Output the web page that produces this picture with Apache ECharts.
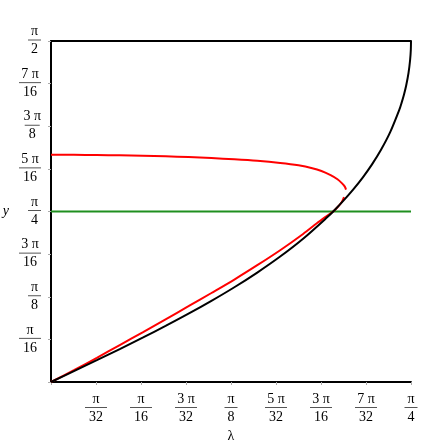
<!DOCTYPE html>
<html><head><meta charset="utf-8">
<script src="https://cdn.jsdelivr.net/npm/echarts@6/dist/echarts.min.js"></script>
<style>html,body{margin:0;padding:0;background:#fff}#c{width:435px;height:445px}</style>
</head><body><div id="c"></div>
<script>
const PI = Math.PI;
// tick labels (numerator/denominator)
const xTickLabels = ['', 'π/32', 'π/16', '3 π/32', 'π/8', '5 π/32', '3 π/16', '7 π/32', 'π/4'];
const yTickLabels = ['', 'π/16', 'π/8', '3 π/16', 'π/4', '5 π/16', '3 π/8', '7 π/16', 'π/2'];
// black curve (λ, y)
const blackCurve = [
  [0,0],[0.05,0.0501],[0.10,0.1005],[0.15,0.1517],[0.20,0.2041],[0.25,0.2582],
  [0.30,0.3145],[0.35,0.3737],[0.40,0.4365],[0.45,0.5042],[0.50,0.5779],
  [0.55,0.6600],[0.60,0.7538],[0.62,0.7948],[0.64,0.8402],[0.66,0.8886],
  [0.68,0.9417],[0.70,1.0013],[0.72,1.0698],[0.74,1.1508],[0.76,1.2543],
  [0.765,1.287],[0.77,1.3235],[0.775,1.3672],[0.78,1.4241],[0.7835,1.4844],
  [0.785,1.5308],[0.7854,1.5708]
];
// red curve, lower branch
const redLower = [
  [0,0],[0.05,0.0545],[0.10,0.1115],[0.15,0.170],[0.20,0.229],[0.25,0.289],
  [0.30,0.349],[0.35,0.410],[0.40,0.472],[0.45,0.538],[0.50,0.607],[0.55,0.682],
  [0.58,0.731],[0.60,0.762],[0.6155,0.7854],[0.625,0.805],[0.634,0.828],[0.6393,0.852]
];
// red curve, upper branch
const redUpper = [
  [0,1.047],[0.05,1.0465],[0.10,1.0455],[0.15,1.044],[0.20,1.042],[0.25,1.0395],
  [0.30,1.036],[0.35,1.0315],[0.40,1.026],[0.45,1.019],[0.50,1.009],[0.54,0.998],
  [0.57,0.985],[0.59,0.972],[0.61,0.953],[0.625,0.934],[0.635,0.915],[0.641,0.900],[0.6436,0.886]
];
// green horizontal line y = π/4
const greenLine = [[0, PI/4],[PI/4, PI/4]];

const FONT = '"Liberation Serif","Times New Roman",serif';
function frac(lbl){
  if(!lbl) return '';
  const [n,d] = lbl.split('/');
  let b = d.length > 1 ? 'bL' : (n.length > 1 ? 'bM' : 'bS');
  return '{n|' + n + '}\n{' + b + '| }\n{d|' + d + '}';
}
const rich = {
  n:{fontFamily:FONT,fontSize:14,color:'#000',lineHeight:14,align:'center'},
  d:{fontFamily:FONT,fontSize:14,color:'#000',lineHeight:16,align:'center'},
  bS:{width:13,height:1,lineHeight:3,fontSize:1,backgroundColor:'#555',align:'center'},
  bM:{width:15,height:1,lineHeight:3,fontSize:1,backgroundColor:'#555',align:'center'},
  bL:{width:22,height:1,lineHeight:3,fontSize:1,backgroundColor:'#555',align:'center'}
};
const chart = echarts.init(document.getElementById('c'));
chart.setOption({
  animation:false,
  grid:{left:51,right:24,top:41,bottom:63,containLabel:false,outerBoundsMode:'none'},
  xAxis:[{
    type:'value',min:0,max:PI/4,interval:PI/32,
    name:'λ',nameLocation:'middle',nameGap:47,
    nameTextStyle:{fontFamily:FONT,fontSize:14,color:'#000'},
    axisLine:{onZero:false,lineStyle:{color:'#000',width:2}},
    axisTick:{show:true,length:3,lineStyle:{color:'#aaa'}},
    splitLine:{show:false},
    axisLabel:{margin:10,formatter:function(v){return frac(xTickLabels[Math.round(v/(PI/32))]);},rich:rich}
  },{
    type:'value',position:'top',min:0,max:PI/4,
    axisLine:{show:true,onZero:false,lineStyle:{color:'#000',width:2}},
    axisTick:{show:false},axisLabel:{show:false},splitLine:{show:false}
  }],
  yAxis:{
    type:'value',min:0,max:PI/2,interval:PI/16,
    name:'y',nameLocation:'middle',nameGap:42,nameRotate:0,
    nameTextStyle:{fontFamily:FONT,fontSize:14,fontStyle:'italic',color:'#000'},
    axisLine:{show:true,onZero:false,lineStyle:{color:'#000',width:2}},
    axisTick:{show:true,length:3,lineStyle:{color:'#aaa'}},
    splitLine:{show:false},
    axisLabel:{margin:10,formatter:function(v){return frac(yTickLabels[Math.round(v/(PI/16))]);},rich:rich}
  },
  series:[
    {type:'line',data:greenLine,showSymbol:false,lineStyle:{color:'#1f8f1f',width:2}},
    {type:'line',data:redLower,showSymbol:false,smooth:0.3,lineStyle:{color:'#ff0000',width:2}},
    {type:'line',data:redUpper,showSymbol:false,smooth:0.3,lineStyle:{color:'#ff0000',width:2}},
    {type:'line',data:blackCurve,showSymbol:false,smooth:0.3,lineStyle:{color:'#000',width:2}}
  ]
});
</script></body></html>
